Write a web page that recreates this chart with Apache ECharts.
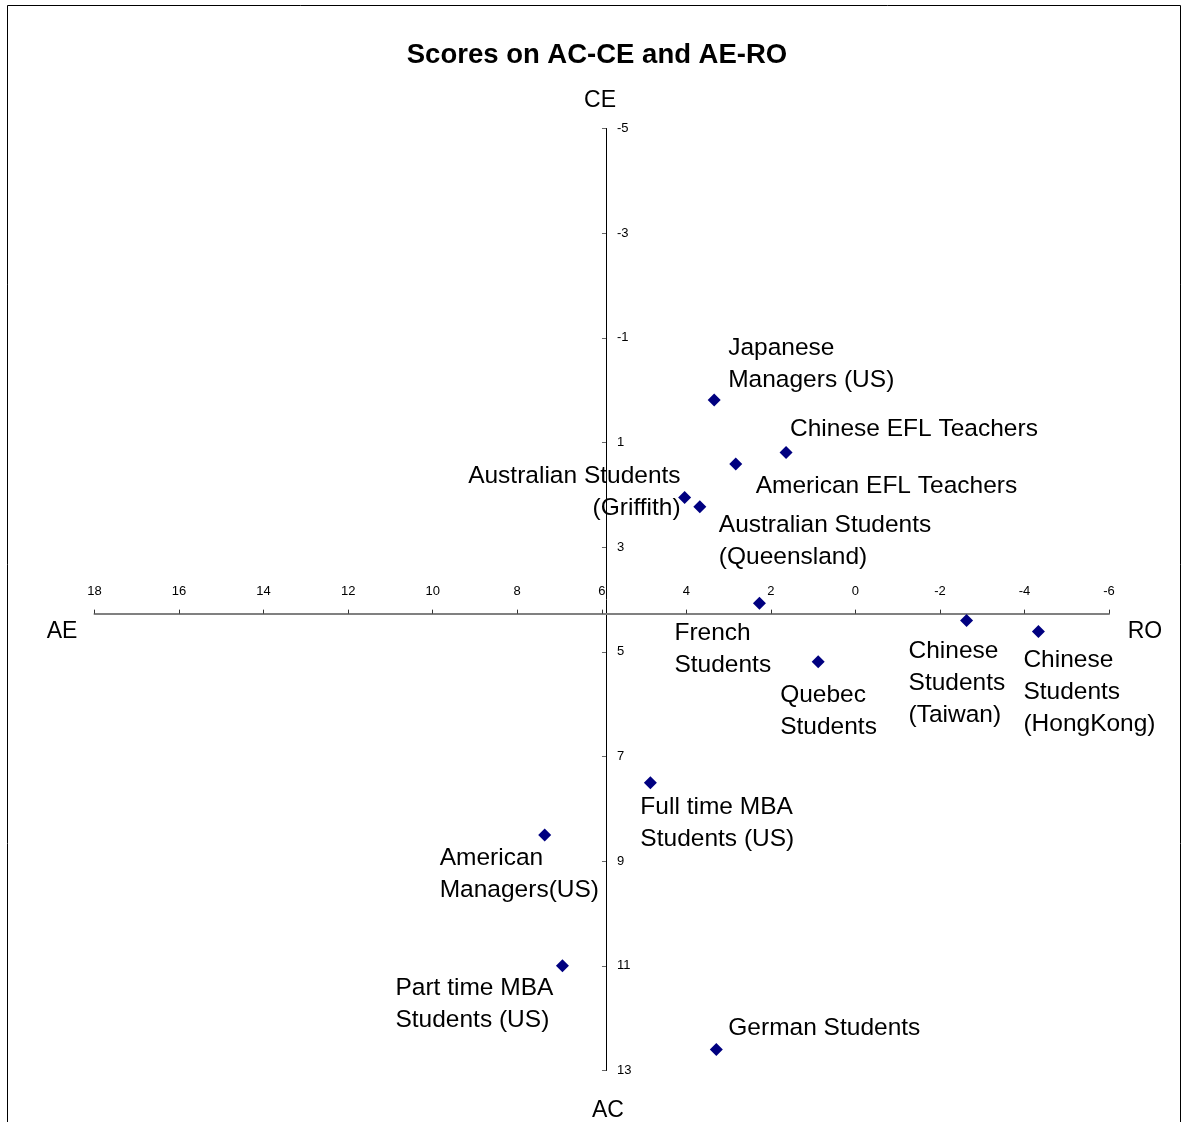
<!DOCTYPE html>
<html>
<head>
<meta charset="utf-8">
<script src="https://cdn.jsdelivr.net/npm/echarts@6/dist/echarts.min.js"></script>
<style>html,body{margin:0;padding:0;background:#fff}#c{width:1182px;height:1122px}</style>
</head>
<body>
<div id="c"></div>
<script>
// ---- data ----
var groupNames = [
  'Japanese\nManagers (US)',
  'Chinese EFL Teachers',
  'American EFL Teachers',
  'Australian Students\n(Griffith)',
  'Australian Students\n(Queensland)',
  'French\nStudents',
  'Chinese\nStudents\n(Taiwan)',
  'Chinese\nStudents\n(HongKong)',
  'Quebec\nStudents',
  'Full time MBA\nStudents (US)',
  'American\nManagers(US)',
  'Part time MBA\nStudents (US)',
  'German Students'
];
var aeRoScores = [3.34, 1.64, 2.83, 4.04, 3.68, 2.27, -2.63, -4.33, 0.88, 4.85, 7.35, 6.93, 3.29];
var acCeScores = [0.19, 1.19, 1.41, 2.05, 2.23, 4.07, 4.40, 4.61, 5.19, 7.50, 8.50, 11.0, 12.60];
var xTickRange = [-6, 18];
var yTickRange = [-5, 13];
var tickStep = 2;
var crossAt = {x: 5.9, y: 4.27};

// ---- layout / style (not data) ----
var labelPlacement = [
  [14, -68, 'left'],
  [4, -39, 'left'],
  [20, 6, 'left'],
  [-4, -37, 'right'],
  [19, 2, 'left'],
  [-85, 14, 'left'],
  [-58, 15, 'left'],
  [-15, 13, 'left'],
  [-38, 17, 'left'],
  [-10, 9, 'left'],
  [-105, 7, 'left'],
  [-167, 6, 'left'],
  [12, -37, 'left']
];
var G = {left: 94.5, top: 128.5, width: 1014.5, height: 942};
var FONT = 'Liberation Sans, Arial, sans-serif';

var yAxisOffset = -((xTickRange[1] - crossAt.x) / (xTickRange[1] - xTickRange[0]) * G.width);
var xAxisOffset = -((crossAt.y - yTickRange[0]) / (yTickRange[1] - yTickRange[0]) * G.height);

var points = groupNames.map(function (n, i) {
  return {name: n, value: [aeRoScores[i], acCeScores[i]]};
});

var chart = echarts.init(document.getElementById('c'), null, {renderer: 'canvas'});
chart.setOption({
  animation: false,
  backgroundColor: '#fff',
  grid: {left: G.left, top: G.top, width: G.width, height: G.height, containLabel: false},
  xAxis: {
    type: 'value', inverse: true, position: 'top', offset: xAxisOffset,
    min: xTickRange[0], max: xTickRange[1], interval: tickStep,
    axisLine: {onZero: false, lineStyle: {color: '#808080', width: 2}},
    axisTick: {show: true, length: 4, lineStyle: {color: '#333'}},
    axisLabel: {margin: 16, fontSize: 13, color: '#000', fontFamily: FONT},
    splitLine: {show: false}
  },
  yAxis: {
    type: 'value', inverse: true, position: 'left', offset: yAxisOffset,
    min: yTickRange[0], max: yTickRange[1], interval: tickStep,
    axisLine: {onZero: false, lineStyle: {color: '#000', width: 1}},
    axisTick: {show: true, length: 4, lineStyle: {color: '#666'}},
    axisLabel: {inside: true, margin: 11, fontSize: 13, color: '#000', fontFamily: FONT},
    splitLine: {show: false}
  },
  series: [{
    type: 'scatter',
    symbol: 'diamond',
    symbolSize: 13,
    itemStyle: {color: '#000080', opacity: 1},
    label: {
      show: true, position: 'inside', align: 'left', verticalAlign: 'top',
      formatter: function (p) { return p.name; },
      fontSize: 24.5, lineHeight: 32, color: '#000', fontFamily: FONT
    },
    labelLayout: function (p) {
      var l = labelPlacement[p.dataIndex];
      return {dx: l[0], dy: l[1], align: l[2], verticalAlign: 'top', hideOverlap: false};
    },
    data: points
  }],
  graphic: [
    {type: 'rect', shape: {x: 7.5, y: 5.5, width: 1173, height: 1140}, style: {fill: 'none', stroke: '#000', lineWidth: 1}, silent: true},
    {type: 'text', x: 597, y: 55, style: {text: 'Scores on AC-CE and AE-RO', fontSize: 27.5, fontWeight: 'bold', fontFamily: FONT, fill: '#000', align: 'center', verticalAlign: 'middle'}},
    {type: 'text', x: 600, y: 101, style: {text: 'CE', fontSize: 23, fontFamily: FONT, fill: '#000', align: 'center', verticalAlign: 'middle'}},
    {type: 'text', x: 608, y: 1111, style: {text: 'AC', fontSize: 23, fontFamily: FONT, fill: '#000', align: 'center', verticalAlign: 'middle'}},
    {type: 'text', x: 62, y: 632, style: {text: 'AE', fontSize: 23, fontFamily: FONT, fill: '#000', align: 'center', verticalAlign: 'middle'}},
    {type: 'text', x: 1145, y: 632, style: {text: 'RO', fontSize: 23, fontFamily: FONT, fill: '#000', align: 'center', verticalAlign: 'middle'}}
  ]
});
</script>
</body>
</html>
